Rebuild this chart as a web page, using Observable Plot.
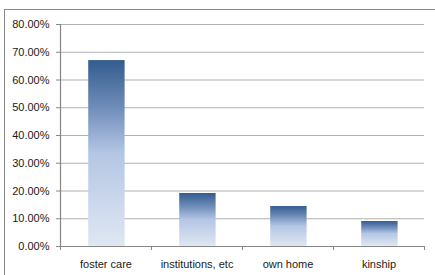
<!DOCTYPE html>
<html>
<head>
<meta charset="utf-8">
<script src="https://cdn.jsdelivr.net/npm/d3@7"></script>
<script src="https://cdn.jsdelivr.net/npm/@observablehq/plot@0.6"></script>
<style>
  html, body { margin: 0; padding: 0; background: #fff; }
  #wrap { position: relative; width: 435px; height: 275px; overflow: hidden; }
  #border { position: absolute; left: 4px; top: 9px; width: 440px; height: 280px; border: 1px solid #8a8a8a; box-sizing: border-box; }
  #chart { position: absolute; left: 0; top: 0; }
</style>
</head>
<body>
<div id="wrap"><div id="border"></div><div id="chart"></div></div>
<script>
const categories = ["foster care", "institutions, etc", "own home", "kinship"];
const values = [0.670, 0.191, 0.144, 0.090];
const yTicks = [0, 0.1, 0.2, 0.3, 0.4, 0.5, 0.6, 0.7, 0.8];
const xBoundaries = [0, 1, 2, 3, 4];

const data = categories.map((c, i) => ({category: c, value: values[i], i}));

const defs = () => {
  const d = d3.create("svg:defs");
  const g = d.append("linearGradient").attr("id", "barGrad")
    .attr("x1", 0).attr("y1", 0).attr("x2", 0).attr("y2", 1);
  g.append("stop").attr("offset", "0%").attr("stop-color", "#335c8e");
  g.append("stop").attr("offset", "25%").attr("stop-color", "#6e8cb9");
  g.append("stop").attr("offset", "50%").attr("stop-color", "#b4c6e4");
  g.append("stop").attr("offset", "100%").attr("stop-color", "#e0e7f3");
  return d.node();
};

const chart = Plot.plot({
  width: 435,
  height: 275,
  marginLeft: 60,
  marginRight: 11,
  marginTop: 24,
  marginBottom: 29,
  style: {fontFamily: "'Liberation Sans', Arial, sans-serif", fontSize: "11px", color: "#1a1a1a", background: "transparent"},
  x: {domain: [0, 4]},
  y: {domain: [0, 0.8]},
  marks: [
    defs,
    Plot.gridY(yTicks, {stroke: "#b0b0b0", strokeOpacity: 1, strokeWidth: 1.2}),
    Plot.rectY(data, {x1: d => d.i + 0.31, x2: d => d.i + 0.71, y: "value", fill: "url(#barGrad)"}),
    Plot.ruleY([0], {stroke: "#868686", strokeWidth: 1.2}),
    Plot.ruleX([0], {y1: 0, y2: 0.8, stroke: "#868686", strokeWidth: 1.2}),
    Plot.axisY(yTicks, {tickFormat: d3.format(".2%"), tickSize: 4, tickPadding: 7, stroke: "#868686", fill: "#1a1a1a", label: null}),
    Plot.axisX(xBoundaries, {tickSize: 4, tickFormat: () => "", stroke: "#868686", label: null}),
    Plot.axisX(categories.map((c, i) => i + 0.5), {tickSize: 0, tickPadding: 14, tickFormat: d => categories[Math.floor(d)], fill: "#1a1a1a", label: null})
  ]
});
document.getElementById("chart").appendChild(chart);
</script>
</body>
</html>
